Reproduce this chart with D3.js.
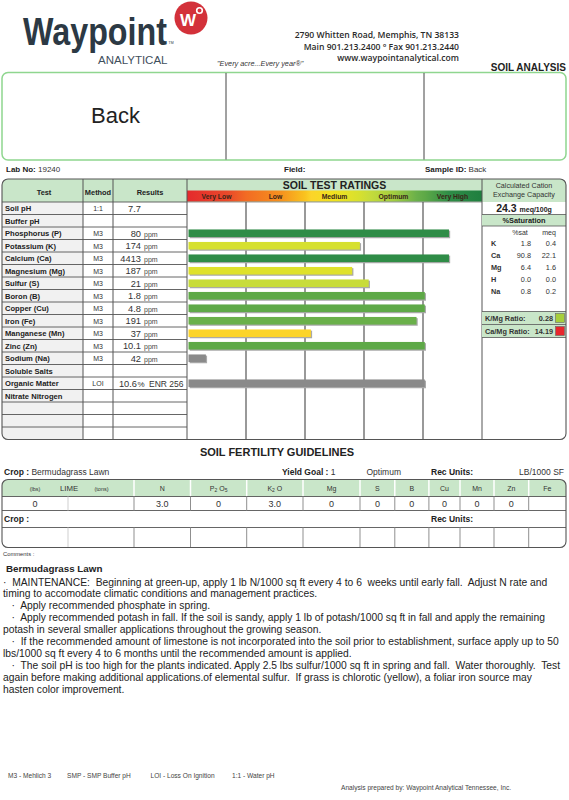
<!DOCTYPE html>
<html><head><meta charset="utf-8">
<script src="https://cdn.jsdelivr.net/npm/d3@7"></script>
<style>
body{margin:0;background:#fff;}
svg{display:block;font-family:"Liberation Sans",Arial,Helvetica,sans-serif;}
text.pre{white-space:pre;}
</style></head><body>
<svg id="chart" width="569" height="800"></svg>
<script>
// ---------------- DATA ----------------
const labNo = "19240";
const sampleId = "Back";
const headerTitle = "Back";
const tests = ["Soil pH","Buffer pH","Phosphorus (P)","Potassium (K)","Calcium (Ca)","Magnesium (Mg)","Sulfur (S)","Boron (B)","Copper (Cu)","Iron (Fe)","Manganese (Mn)","Zinc (Zn)","Sodium (Na)","Soluble Salts","Organic Matter","Nitrate Nitrogen","","",""];
const methods = ["1:1","","M3","M3","M3","M3","M3","M3","M3","M3","M3","M3","M3","","LOI","","","",""];
const results = ["7.7","","80","174","4413","187","21","1.8","4.8","191","37","10.1","42","","10.6","","","",""];
const units = ["","","ppm","ppm","ppm","ppm","ppm","ppm","ppm","ppm","ppm","ppm","ppm","","%","","","",""];
const enrValue = "256";
const ratingCategories = ["Very Low","Low","Medium","Optimum","Very High"];
// bar length in rating-category units (0..5)
const ratingLevels = [null,null,4.44,2.93,4.44,2.80,3.08,4.03,4.03,3.89,2.10,4.03,0.32,null,4.03,null,null,null,null];
const unratedTests = ["Sodium (Na)","Organic Matter"];
const cec = "24.3";
const cations = ["K","Ca","Mg","H","Na"];
const pctSat = ["1.8","90.8","6.4","0.0","0.8"];
const meqVals = ["0.4","22.1","1.6","0.0","0.2"];
const ratioLabels = ["K/Mg Ratio:","Ca/Mg Ratio:"];
const ratioValues = ["0.28","14.19"];
const ratioStatus = ["ok","high"];
const crop = "Bermudagrass Lawn";
const yieldGoal = "1";
const yieldLevel = "Optimum";
const recUnits = "LB/1000 SF";
const fertCols = ["N","P2O5","K2O","Mg","S","B","Cu","Mn","Zn","Fe"];
const limeLbs = "0", limeTons = "";
const fertValues = ["3.0","0","3.0","0","0","0","0","0","0",""];
const commentTitle = "Bermudagrass Lawn";
const commentLines = [
"·  MAINTENANCE:  Beginning at green-up, apply 1 lb N/1000 sq ft every 4 to 6  weeks until early fall.  Adjust N rate and",
"timing to accomodate climatic conditions and management practices.",
"   ·  Apply recommended phosphate in spring.",
"   ·  Apply recommended potash in fall. If the soil is sandy, apply 1 lb of potash/1000 sq ft in fall and apply the remaining",
"potash in several smaller applications throughout the growing season.",
"   ·  If the recommended amount of limestone is not incorporated into the soil prior to establishment, surface apply up to 50",
"lbs/1000 sq ft every 4 to 6 months until the recommended amount is applied.",
"   ·  The soil pH is too high for the plants indicated. Apply 2.5 lbs sulfur/1000 sq ft in spring and fall.  Water thoroughly.  Test",
"again before making additional applications.of elemental sulfur.  If grass is chlorotic (yellow), a foliar iron source may",
"hasten color improvement."
];
const methodKey = ["M3 - Mehlich 3","SMP - SMP Buffer pH","LOI - Loss On Ignition","1:1 - Water pH"];
const preparedBy = "Analysis prepared by: Waypoint Analytical Tennessee, Inc.";
const addressLines = ["2790 Whitten Road, Memphis, TN 38133","Main 901.213.2400 \u00B0 Fax 901.213.2440","www.waypointanalytical.com"];

// ---------------- STYLE ----------------
const C = {ink:"#222", grid:"#555", greenFill:"#c9e6c9", boxGreen:"#8fd68f", testFill:"#f1f1f1", gray:"#8a8a8a", shadow:"#a9a9a9"};
const gradStops = [[0,"#e42a2c"],[0.7,"#ea4a2a"],[1,"#f26b23"],[1.6,"#f6921e"],[2,"#f9c31f"],[2.1,"#fcd42a"],[2.5,"#f1e21f"],[2.8,"#dfe12b"],[2.93,"#d6e02f"],[3.08,"#c8dc3a"],[3.5,"#a3cd40"],[3.89,"#6ab04a"],[4.03,"#5ea947"],[4.44,"#2f8c47"],[5,"#1f7f3f"]];
const ratingColor = d3.scaleLinear().domain(gradStops.map(d=>d[0])).range(gradStops.map(d=>d[1]));

const svg = d3.select("#chart");
function txt(g,x,y,s,o={}){
  const t=g.append("text").attr("x",x).attr("y",y).text(s)
    .attr("font-size",o.size||8).attr("fill",o.fill||C.ink)
    .attr("text-anchor",o.anchor||"start");
  if(o.bold) t.attr("font-weight","bold");
  if(o.family) t.attr("font-family",o.family);
  if(o.italic) t.attr("font-style","italic");
  if(o.weight) t.attr("font-weight",o.weight);
  return t;
}
const defs = svg.append("defs");

// ---------------- HEADER ----------------
const hd = svg.append("g");
// logo word, squeezed horizontally to the logo's width
const wp = txt(hd,0,0,"Waypoint",{size:38,bold:true,fill:"#2c3944"});
const wpW = wp.node().getComputedTextLength();
wp.attr("transform",`translate(23,45) scale(${144/wpW},1)`);
txt(hd,168.5,44,"TM",{size:3.5,fill:"#2c3944"});
txt(hd,98,63.5,"ANALYTICAL",{size:11.8,fill:"#3f4f5c"}).attr("textLength",69.5).attr("lengthAdjust","spacingAndGlyphs");
hd.append("circle").attr("cx",191).attr("cy",18).attr("r",16.5).attr("fill","#d3313a");
txt(hd,188,25.5,"W",{size:17,bold:true,fill:"#fff",anchor:"middle"});
hd.append("circle").attr("cx",199.5).attr("cy",10.5).attr("r",2.8).attr("fill","none").attr("stroke","#fff").attr("stroke-width",1.6);
addressLines.forEach((s,i)=>txt(hd,459,38+i*11.5,s,{size:8.6,weight:600,fill:"#2a2a2a",anchor:"end",family:"'Open Sans',sans-serif"}));
txt(hd,217,66,"\"Every acre...Every year\u00AE\"",{size:7.3,italic:true,fill:"#333"});
txt(hd,566,71,"SOIL ANALYSIS",{size:10,bold:true,anchor:"end",fill:"#222"});

// top box
const tb = svg.append("g");
tb.append("rect").attr("x",2).attr("y",72.5).attr("width",564).attr("height",87.5).attr("rx",6)
  .attr("fill","none").attr("stroke",C.boxGreen).attr("stroke-width",1.5);
[226,424].forEach(x=>tb.append("line").attr("x1",x).attr("x2",x).attr("y1",73).attr("y2",159.5).attr("stroke","#444").attr("stroke-width",1));
txt(tb,91,123,headerTitle,{size:22,fill:"#222"});

// lab no line
const ln = svg.append("g");
function labelPair(g,x,y,lab,val,size){
  const t=txt(g,x,y,"",{size:size});
  t.append("tspan").attr("font-weight","bold").text(lab);
  t.append("tspan").attr("fill","#333").text(val);
  return t;
}
labelPair(ln,6,172,"Lab No:  ",labNo,8);
labelPair(ln,284,172,"Field:","",8);
labelPair(ln,425,172,"Sample ID: ",sampleId,8);

// ---------------- MAIN TABLE ----------------
const T = {x0:2,x1:566,top:179,headBot:202,bot:439.5,cTest:83,cMethod:113,cRes:187,cCat:482};
const yRow = d3.scaleBand().domain(d3.range(tests.length)).range([T.headBot,T.bot]);
const xRate = d3.scaleLinear().domain([0,5]).range([T.cRes,T.cCat]);
const rh = yRow.bandwidth();

defs.append("clipPath").attr("id","mainClip").append("rect")
  .attr("x",T.x0).attr("y",T.top).attr("width",T.x1-T.x0).attr("height",T.bot-T.top).attr("rx",6);
const grad = defs.append("linearGradient").attr("id","rateGrad").attr("x1","0%").attr("x2","100%");
gradStops.forEach(s=>grad.append("stop").attr("offset",(s[0]/5*100)+"%").attr("stop-color",s[1]));

const mt = svg.append("g");
const fills = mt.append("g").attr("clip-path","url(#mainClip)");
fills.append("rect").attr("x",T.x0).attr("y",T.top).attr("width",T.x1-T.x0).attr("height",T.headBot-T.top).attr("fill",C.greenFill);
fills.append("rect").attr("x",T.x0).attr("y",T.headBot).attr("width",T.cTest-T.x0).attr("height",T.bot-T.headBot).attr("fill",C.testFill);
fills.append("rect").attr("x",xRate(0)).attr("y",190.5).attr("width",xRate(5)-xRate(0)).attr("height",11).attr("fill","url(#rateGrad)");

// header texts
txt(mt,44,194.5,"Test",{size:7.4,bold:true,anchor:"middle"});
txt(mt,98,194.5,"Method",{size:7.4,bold:true,anchor:"middle"});
txt(mt,150,194.5,"Results",{size:7.4,bold:true,anchor:"middle"});
txt(mt,(xRate(0)+xRate(5))/2,188.5,"SOIL TEST RATINGS",{size:10.5,bold:true,anchor:"middle"});
ratingCategories.forEach((c,i)=>txt(mt,xRate(i+0.5),199,c,{size:6.8,bold:true,anchor:"middle",fill:"#3a2418"}));

// grid lines in ratings
d3.range(1,5).forEach(k=>mt.append("line").attr("x1",xRate(k)).attr("x2",xRate(k)).attr("y1",T.headBot).attr("y2",T.bot).attr("stroke","#6e6e6e").attr("stroke-width",1.4));

// row lines
yRow.domain().forEach(i=>{
  mt.append("line").attr("x1",T.x0).attr("x2",T.cRes).attr("y1",yRow(i)).attr("y2",yRow(i)).attr("stroke",C.grid).attr("stroke-width",0.9);
});
mt.append("line").attr("x1",T.cRes).attr("x2",T.cCat).attr("y1",T.headBot).attr("y2",T.headBot).attr("stroke",C.grid).attr("stroke-width",0.6);
[T.cTest,T.cMethod,T.cRes,T.cCat].forEach(x=>mt.append("line").attr("x1",x).attr("x2",x).attr("y1",T.top).attr("y2",T.bot).attr("stroke",C.grid).attr("stroke-width",1));

// row texts
tests.forEach((t,i)=>{
  const yb = yRow(i)+rh/2+2.8;
  if(t) txt(mt,5,yb,t,{size:7.6,bold:true});
  if(methods[i]) txt(mt,98,yb,methods[i],{size:7,anchor:"middle",fill:"#333"});
  if(results[i]){
    if(units[i]==="%"){
      txt(mt,137,yb+0.5,results[i],{size:9.3,anchor:"end",fill:"#333"});
      txt(mt,137.5,yb+0.5,"%",{size:8,fill:"#333"});
      txt(mt,149,yb+0.5,"ENR "+enrValue,{size:8.5,fill:"#333"});
    } else {
      txt(mt,141,yb+0.5,results[i],{size:9.3,anchor:"end",fill:"#333"});
      if(units[i]) txt(mt,144,yb+0.8,units[i],{size:7,fill:"#444"});
    }
  }
});

// bars
const barH = 7.6;
const bars = mt.append("g");
tests.forEach((t,i)=>{
  const v = ratingLevels[i];
  if(v==null) return;
  const x0 = xRate(0)+1.5, w = xRate(v)-x0, y = yRow(i)+(rh-barH)/2;
  bars.append("rect").attr("x",x0+1.2).attr("y",y+1.2).attr("width",w).attr("height",barH).attr("fill",C.shadow);
  bars.append("rect").attr("x",x0).attr("y",y).attr("width",w).attr("height",barH)
    .attr("fill",unratedTests.includes(t)?C.gray:ratingColor(v));
});

// cation column
const cx0=T.cCat, cx1=T.x1, cmid=(cx0+cx1)/2;
txt(mt,cmid,188,"Calculated Cation",{size:7.2,anchor:"middle",fill:"#333"});
txt(mt,cmid,197,"Exchange Capacity",{size:7.2,anchor:"middle",fill:"#333"});
const ct = txt(mt,cmid,212,"",{size:10.5,anchor:"middle"});
ct.append("tspan").attr("font-weight","bold").text(cec+" ");
ct.append("tspan").attr("font-weight","bold").attr("font-size",7).text("meq/100g");
mt.append("rect").attr("x",cx0).attr("y",214.5).attr("width",cx1-cx0).attr("height",11.5).attr("fill",C.greenFill);
[214.5,226].forEach(y=>mt.append("line").attr("x1",cx0).attr("x2",cx1).attr("y1",y).attr("y2",y).attr("stroke",C.grid).attr("stroke-width",0.8));
txt(mt,cmid,223.2,"%Saturation",{size:7.4,bold:true,anchor:"middle"});
txt(mt,520,235,"%sat",{size:7,anchor:"middle",fill:"#333"});
txt(mt,549,235,"meq",{size:7,anchor:"middle",fill:"#333"});
const yCat = d3.scalePoint().domain(cations).range([245.5,293.5]);
cations.forEach((c,i)=>{
  txt(mt,491,yCat(c),c,{size:7.3,bold:true,fill:"#333"});
  txt(mt,531,yCat(c),pctSat[i],{size:7.3,anchor:"end",fill:"#333"});
  txt(mt,556,yCat(c),meqVals[i],{size:7.3,anchor:"end",fill:"#333"});
});
const ratioColors = {ok:"#a6cf3c", high:"#e8262c"};
const yRatio = d3.scaleBand().domain(ratioLabels).range([311.5,337.5]);
ratioLabels.forEach((r,i)=>{
  const y=yRatio(r), h=yRatio.bandwidth();
  mt.append("rect").attr("x",cx0).attr("y",y).attr("width",cx1-cx0).attr("height",h).attr("fill",C.greenFill);
  mt.append("line").attr("x1",cx0).attr("x2",cx1).attr("y1",y).attr("y2",y).attr("stroke",C.grid).attr("stroke-width",0.8);
  txt(mt,485,y+h/2+2.7,r,{size:7.3,bold:true,fill:"#333"});
  txt(mt,553,y+h/2+2.7,ratioValues[i],{size:7.3,bold:true,anchor:"end",fill:"#333"});
  mt.append("rect").attr("x",555.5).attr("y",y+2).attr("width",9).attr("height",9).attr("fill",ratioColors[ratioStatus[i]]).attr("stroke","#666").attr("stroke-width",0.6);
});
mt.append("line").attr("x1",cx0).attr("x2",cx1).attr("y1",337.5).attr("y2",337.5).attr("stroke",C.grid).attr("stroke-width",0.8);

mt.append("rect").attr("x",T.x0).attr("y",T.top).attr("width",T.x1-T.x0).attr("height",T.bot-T.top).attr("rx",6)
  .attr("fill","none").attr("stroke",C.grid).attr("stroke-width",1.1);

// ---------------- FERTILITY GUIDELINES ----------------
const fg = svg.append("g");
txt(fg,277,455.5,"SOIL FERTILITY GUIDELINES",{size:11,bold:true,anchor:"middle"});
labelPair(fg,4,474.5,"Crop : ",crop,8.5);
labelPair(fg,282,474.5,"Yield Goal : ",yieldGoal,8.5);
txt(fg,366.5,474.5,yieldLevel,{size:8.5,fill:"#333"});
labelPair(fg,431,474.5,"Rec Units:","",8.5);
txt(fg,564,474.5,recUnits,{size:8.5,anchor:"end",fill:"#333"});

const F = {x0:2,x1:566,top:479.5,head:496.5,val:510.5,crop:527.5,bot:547.5};
const edges = [2,68,134,190.5,246.7,303,360,394.8,428.9,460,494,528.7,566];
defs.append("clipPath").attr("id","fertClip").append("rect")
  .attr("x",F.x0).attr("y",F.top).attr("width",F.x1-F.x0).attr("height",F.bot-F.top).attr("rx",6);
const ff = fg.append("g").attr("clip-path","url(#fertClip)");
ff.append("rect").attr("x",F.x0).attr("y",F.top).attr("width",F.x1-F.x0).attr("height",F.head-F.top).attr("fill",C.greenFill);
edges.slice(2,-1).forEach(x=>ff.append("line").attr("x1",x).attr("x2",x).attr("y1",F.top).attr("y2",F.head).attr("stroke","#fff").attr("stroke-width",1.5));
[F.head,F.val,F.crop].forEach(y=>fg.append("line").attr("x1",F.x0).attr("x2",F.x1).attr("y1",y).attr("y2",y).attr("stroke",C.grid).attr("stroke-width",0.9));
edges.slice(1,-1).forEach((x,k)=>{
  const col = k===0 ? "#cfcfcf" : "#8f8f8f";
  [[F.head,F.val],[F.crop,F.bot]].forEach(([a,b])=>fg.append("line").attr("x1",x).attr("x2",x).attr("y1",a).attr("y2",b).attr("stroke",col).attr("stroke-width",1));
});
fg.append("rect").attr("x",F.x0).attr("y",F.top).attr("width",F.x1-F.x0).attr("height",F.bot-F.top).attr("rx",6)
  .attr("fill","none").attr("stroke",C.grid).attr("stroke-width",1.1);
txt(fg,35,490.5,"(lbs)",{size:5.5,anchor:"middle",fill:"#333"});
txt(fg,69,490.5,"LIME",{size:7.8,anchor:"middle",fill:"#333"});
txt(fg,101.5,490.5,"(tons)",{size:5.5,anchor:"middle",fill:"#333"});
fertCols.forEach((c,i)=>{
  const cxm=(edges[i+2]+edges[i+3])/2;
  const t = txt(fg,cxm,490.5,"",{size:7,anchor:"middle",fill:"#333"});
  // digits rendered as subscripts
  const parts = c.match(/[A-Za-z]+|\d/g);
  parts.forEach((p,j)=>{
    const isNum=/\d/.test(p);
    const s=t.append("tspan").text((isNum||j===0)?p:" "+p);
    if(isNum) s.attr("font-size",5).attr("dy",1.6);
    else if(j>0) s.attr("dy",-1.6);
  });
  if(fertValues[i]) txt(fg,cxm,506.5,fertValues[i],{size:9,anchor:"middle",fill:"#333"});
});
txt(fg,35,506.5,limeLbs,{size:9,anchor:"middle",fill:"#333"});
if(limeTons) txt(fg,101,506.5,limeTons,{size:9,anchor:"middle",fill:"#333"});
labelPair(fg,4,522,"Crop :","",8.5);
labelPair(fg,431,522,"Rec Units:","",8.5);

// ---------------- COMMENTS ----------------
const cm = svg.append("g");
txt(cm,3,555.5,"Comments :",{size:5.8,fill:"#333"});
txt(cm,6,571.5,commentTitle,{size:9.8,bold:true});
commentLines.forEach((l,i)=>txt(cm,3,585.5+i*11.9,l,{size:10.3,fill:"#222"}).attr("class","pre"));

// ---------------- FOOTER ----------------
const ft = svg.append("g");
[8,67,150.5,232].forEach((x,i)=>txt(ft,x,778,methodKey[i],{size:6.6,fill:"#444"}));
txt(ft,341,790,preparedBy,{size:6.6,fill:"#444"});
</script>
</body></html>
